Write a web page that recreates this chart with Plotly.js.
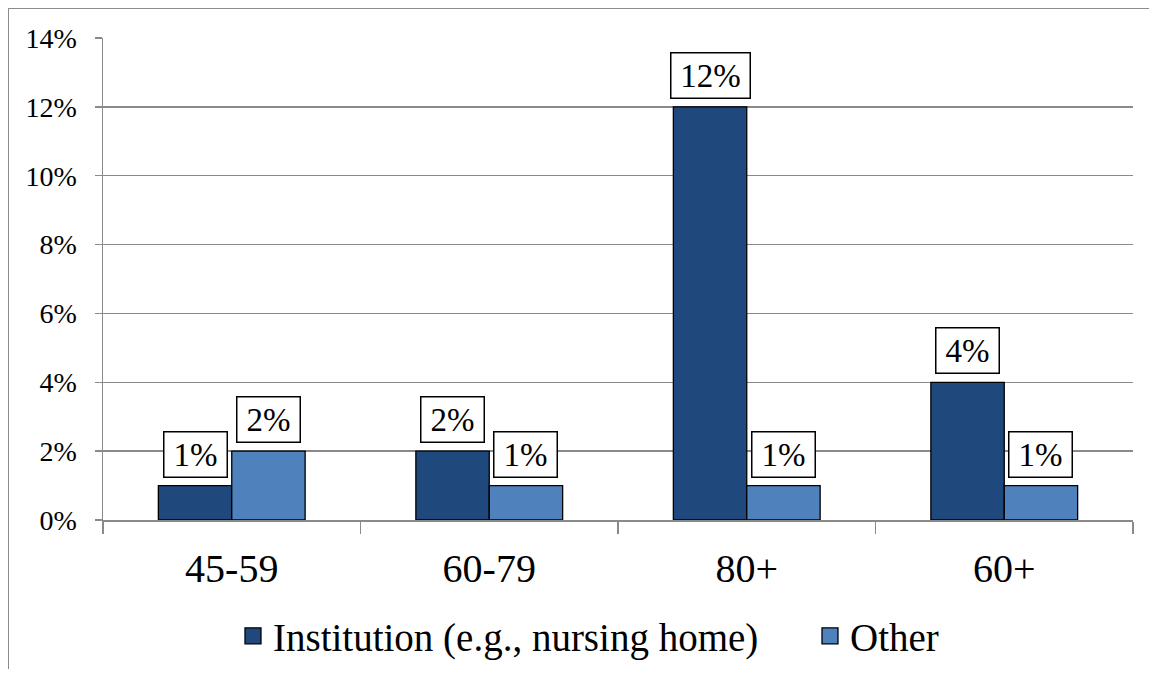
<!DOCTYPE html>
<html>
<head>
<meta charset="utf-8">
<script src="https://cdn.plot.ly/plotly-3.0.1.min.js"></script>
</head>
<body style="margin:0;background:#ffffff">
<div id="chart" style="width:1154px;height:675px"></div>
<div style="position:absolute;left:8px;top:8px;width:1140px;height:660px;border-left:1.5px solid #8c8c8c;border-top:1.5px solid #8c8c8c;pointer-events:none"></div>
<script>
// ---- data ----
const categories = ["45-59", "60-79", "80+", "60+"];
const seriesNames = ["Institution (e.g., nursing home)", "Other"];
const institution = [0.01, 0.02, 0.12, 0.04];
const other = [0.02, 0.01, 0.01, 0.01];
const institutionLabels = ["1%", "2%", "12%", "4%"];
const otherLabels = ["2%", "1%", "1%", "1%"];
const yTickVals = [0, 0.02, 0.04, 0.06, 0.08, 0.10, 0.12, 0.14];
const yTickText = ["0%", "2%", "4%", "6%", "8%", "10%", "12%", "14%"];

// ---- style ----
const FONT = "Liberation Serif";
const DARK = "#1F497D";
const LIGHT = "#4F81BD";
const GRID = "#8a8a8a";
const BARGAP = 0.43;

const seriesValues = [institution, other];
const seriesLabels = [institutionLabels, otherLabels];
const seriesColors = [DARK, LIGHT];
const legendIds = ["legend", "legend2"];

const traces = [];
seriesValues.forEach((vals, s) => {
  traces.push({
    type: "bar",
    x: categories,
    y: vals,
    name: seriesNames[s],
    showlegend: false,
    hoverinfo: "skip",
    marker: { color: seriesColors[s], line: { color: "#000000", width: 1.3 } }
  });
});
// legend entries (larger square swatches)
seriesNames.forEach((nm, s) => {
  traces.push({
    type: "scatter",
    mode: "markers",
    x: [null],
    y: [null],
    name: nm,
    legend: legendIds[s],
    showlegend: true,
    hoverinfo: "skip",
    marker: { symbol: "square", size: 16, color: seriesColors[s], line: { color: "#000000", width: 1.3 } }
  });
});

// value labels as boxed annotations, placed through the category axis
const half = (1 - BARGAP) / 4;
const annotations = [];
seriesValues.forEach((vals, s) => {
  vals.forEach((v, i) => {
    const txt = seriesLabels[s][i];
    annotations.push({
      x: i + (s === 0 ? -half : half),
      y: v,
      xref: "x",
      yref: "y",
      text: txt,
      showarrow: false,
      yanchor: "bottom",
      xanchor: "center",
      yshift: 8,
      width: 16 * txt.length + 28,
      height: 42,
      borderpad: 1,
      bgcolor: "#ffffff",
      bordercolor: "#000000",
      borderwidth: 1.5,
      font: { family: FONT, size: 33, color: "#000000" }
    });
  });
});

const legendBase = {
  orientation: "h",
  xref: "container",
  yref: "container",
  xanchor: "left",
  y: 0.0578,
  yanchor: "middle",
  font: { family: FONT, size: 39, color: "#000000" },
  bgcolor: "rgba(0,0,0,0)",
  borderwidth: 0
};

const layout = {
  width: 1154,
  height: 675,
  margin: { l: 103, r: 21, t: 38, b: 155 },
  paper_bgcolor: "rgba(0,0,0,0)",
  plot_bgcolor: "#ffffff",
  barmode: "group",
  bargap: BARGAP,
  bargroupgap: 0,
  font: { family: FONT, size: 28, color: "#000000" },
  xaxis: {
    type: "category",
    categoryorder: "array",
    categoryarray: categories,
    automargin: false,
    showline: true,
    linecolor: GRID,
    linewidth: 1.5,
    ticks: "outside",
    tickson: "boundaries",
    ticklen: 12,
    tickwidth: 1.5,
    tickcolor: GRID,
    showgrid: false,
    zeroline: false,
    tickfont: { family: FONT, size: 40, color: "#000000" },
    ticklabelstandoff: 12
  },
  yaxis: {
    range: [0, 0.14],
    automargin: false,
    tickvals: yTickVals,
    ticktext: yTickText,
    showline: true,
    linecolor: GRID,
    linewidth: 1.5,
    ticks: "outside",
    ticklen: 7,
    tickwidth: 1.5,
    tickcolor: GRID,
    showgrid: true,
    gridcolor: GRID,
    gridwidth: 1.5,
    zeroline: false,
    tickfont: { family: FONT, size: 28, color: "#000000" },
    ticklabelstandoff: 12
  },
  legend: Object.assign({}, legendBase, { x: 0.2019 }),
  legend2: Object.assign({}, legendBase, { x: 0.7019 }),
  annotations: annotations,
  hovermode: false
};

Plotly.newPlot("chart", traces, layout, { staticPlot: true }).then(gd => {
  gd.querySelectorAll("text").forEach(t => {
    t.style.setProperty("font-family", '"Liberation Serif", "DejaVu Serif", serif', "important");
  });
});
</script>
</body>
</html>
